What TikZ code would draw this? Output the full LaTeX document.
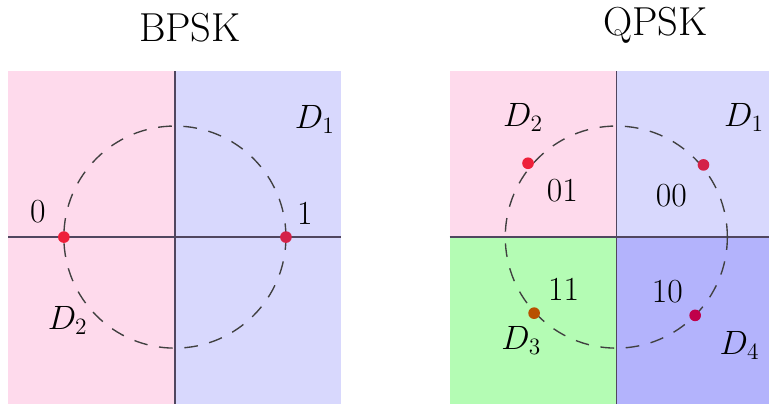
\documentclass[tikz,border=0pt]{standalone}
\usepackage{tikz}
\usetikzlibrary{positioning}
\definecolor{mypink}{RGB}{254,218,236}
\definecolor{mylavender}{RGB}{216,216,253}
\definecolor{mygreen}{RGB}{180,252,180}
\definecolor{myblue}{RGB}{179,179,252}
\definecolor{myaxis}{RGB}{80,70,95}
\definecolor{myred}{RGB}{238,32,58}
\definecolor{mycrimson}{RGB}{212,34,72}
\definecolor{mybrown}{RGB}{184,80,0}
\definecolor{mymaroon}{RGB}{192,0,74}

\begin{document}
\begin{tikzpicture}[
		axis/.style={myaxis, line width=0.8pt},
		ring/.style={black!75, line width=0.7pt, dash pattern=on 7pt off 6pt},
		dot/.style={circle, inner sep=0pt, minimum size=0.21cm},
		title/.style={font=\huge},
		region/.style={font=\LARGE},
		bits/.style={font=\LARGE}
		]
		\useasboundingbox (-3.15,-3) rectangle (10.7,4.27);
		
		% BPSK
		\fill[mypink] (-3,-3) rectangle (0,3);
		\fill[mylavender] (0,-3) rectangle (3,3);
		\draw[axis] (-3,0) -- (3,0);
		\draw[axis] (0,-3) -- (0,3);
		\draw[ring] (0,0) circle (2);
		\node[title] (bpsk) at (0.27,3.77) {BPSK};
		\node[dot, fill=myred] (p0) at (-2,0) {};
		\node[dot, fill=mycrimson] (p1) at (2,0) {};
		\node[bits] (b0) at (-2.47,0.45) {0};
		\node[bits] (b1) at (2.34,0.42) {1};
		\node[region] (bd1) at (2.52,2.11) {$D_1$};
		\node[region] (bd2) at (-1.93,-1.5) {$D_2$};
		
		% QPSK
		\begin{scope}[xshift=7.95cm]
		\fill[mypink] (-3,0) rectangle (0,3);
		\fill[mylavender] (0,0) rectangle (3,3);
		\fill[mygreen] (-3,-3) rectangle (0,0);
		\fill[myblue] (0,-3) rectangle (3,0);
		\draw[axis] (-3,0) -- (3,0);
		\draw[axis] (0,-3) -- (0,3);
		\draw[ring] (0,0) circle (2);
		\node[title] (qpsk) at (0.7,3.82) {QPSK};
		\node[dot, fill=myred] (q01) at (-1.59,1.33) {};
		\node[dot, fill=mycrimson] (q00) at (1.57,1.30) {};
		\node[dot, fill=mybrown] (q11) at (-1.48,-1.37) {};
		\node[dot, fill=mymaroon] (q10) at (1.42,-1.41) {};
		\node[bits] (b01) at (-0.97,0.83) {01};
		\node[bits] (b00) at (0.99,0.74) {00};
		\node[bits] (b11) at (-0.95,-0.95) {11};
		\node[bits] (b10) at (0.92,-0.99) {10};
		\node[region] (qd1) at (2.3,2.16) {$D_1$};
		\node[region] (qd2) at (-1.68,2.16) {$D_2$};
		\node[region] (qd3) at (-1.71,-1.86) {$D_3$};
		\node[region] (qd4) at (2.22,-1.95) {$D_4$};
		\end{scope}
		
	\end{tikzpicture}
\end{document}
